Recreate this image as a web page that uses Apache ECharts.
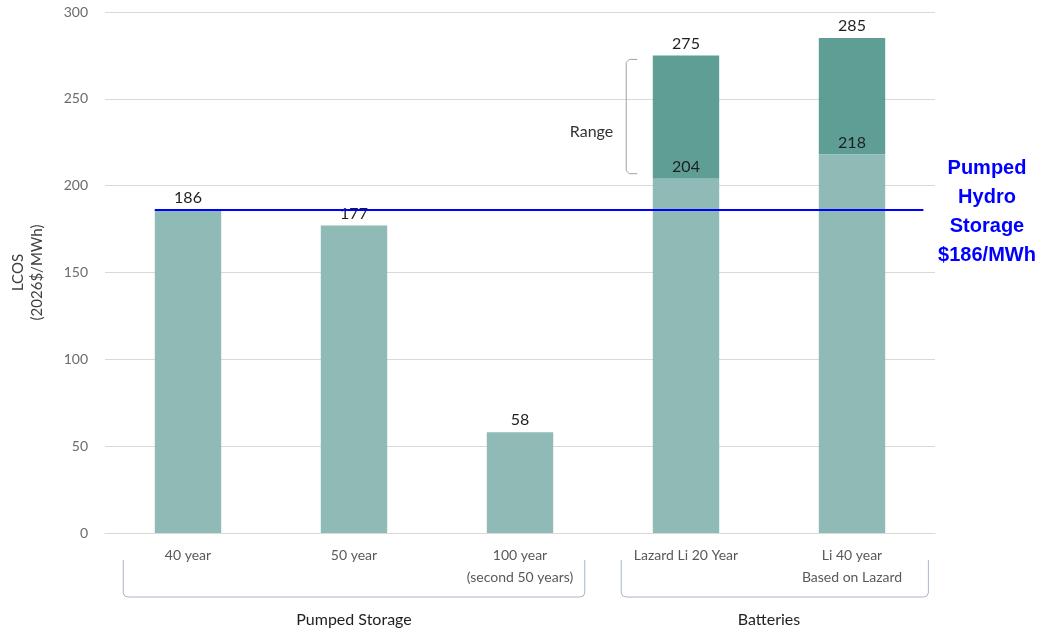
<!DOCTYPE html>
<html><head><meta charset="utf-8">
<script src="https://cdn.jsdelivr.net/npm/echarts@6/dist/echarts.min.js"></script>
<style>html,body{margin:0;padding:0;background:#fff}#c{width:1041px;height:634px}</style>
</head><body><div id="c"></div>
<script>
const categories = ['40 year','50 year','100 year\n(second 50 years)','Lazard Li 20 Year','Li 40 year\nBased on Lazard'];
const baseValues = [186, 177, 58, 204, 218];
const rangeTops = [null, null, null, 275, 285];
const rangeValues = rangeTops.map((t, i) => t == null ? null : t - baseValues[i]);
const yTicks = [0, 50, 100, 150, 200, 250, 300];
const groups = [
  { name: 'Pumped Storage', from: 0, to: 2 },
  { name: 'Batteries', from: 3, to: 4 }
];
const referenceValue = 186;
const referenceLineX = [-0.2, 4.43];
const referenceText = 'Pumped\nHydro\nStorage\n$186/MWh';

const FONT = 'Lato';
const chart = echarts.init(document.getElementById('c'));
const option = {
  animation: false,
  backgroundColor: '#fff',
  grid: { left: 105, right: 106, top: 12, bottom: 101, containLabel: false, outerBoundsMode: 'none' },
  xAxis: [{
    type: 'category', data: categories,
    axisLine: { show: true, lineStyle: { color: '#d9d9d9', width: 1 } },
    axisTick: { show: false },
    axisLabel: { color: '#595959', fontFamily: FONT, fontSize: 14, margin: 11, lineHeight: 22, interval: 0 }
  }, {
    type: 'value', min: -0.5, max: 4.5, show: false
  }],
  yAxis: {
    type: 'value', min: yTicks[0], max: yTicks[yTicks.length - 1], interval: yTicks[1] - yTicks[0],
    name: 'LCOS\n(2026$/MWh)', nameLocation: 'middle', nameRotate: 90, nameGap: 58,
    nameTextStyle: { color: '#404040', fontFamily: FONT, fontSize: 15, lineHeight: 19 },
    axisLine: { show: false }, axisTick: { show: false },
    axisLabel: { color: '#6b6b6b', fontFamily: FONT, fontSize: 14, margin: 17 },
    splitLine: { lineStyle: { color: '#d9d9d9', width: 1 } }
  },
  series: [{
    type: 'bar', stack: 's', z: 3, data: baseValues, barWidth: '40%',
    itemStyle: { color: '#8fbab6' },
    label: { show: true, position: 'top', distance: 4, color: '#1f1f1f', fontFamily: FONT, fontSize: 16 }
  }, {
    type: 'bar', stack: 's', z: 2, data: rangeValues, barWidth: '40%',
    itemStyle: { color: '#5f9e95' },
    label: { show: true, position: 'top', distance: 4, color: '#1f1f1f', fontFamily: FONT, fontSize: 16,
      formatter: p => rangeTops[p.dataIndex] }
  }, {
    type: 'line', xAxisIndex: 1, z: 5, symbol: 'none', silent: true,
    data: referenceLineX.map(x => [x, referenceValue]),
    lineStyle: { color: '#0000ff', width: 2 }
  }]
};
chart.setOption(option);

function px(cat, val) { return chart.convertToPixel({ xAxisIndex: 0, yAxisIndex: 0 }, [cat, val]); }
const catW = px(1, 0)[0] - px(0, 0)[0];
const y0 = px(0, 0)[1];
const graphics = [];
const bracketColor = '#a8b6c8';
groups.forEach((g, gi) => {
  const xl = px(g.from, 0)[0] - catW * 0.39;
  const xr = px(g.to, 0)[0] + catW * (gi === groups.length - 1 ? 0.46 : 0.39);
  const yt = y0 + 27, yb = y0 + 64;
  graphics.push({
    type: 'polyline', silent: true,
    shape: { points: [[xl, yt], [xl, yb - 4], [xl + 1.5, yb - 1], [xl + 5, yb], [xr - 5, yb], [xr - 1.5, yb - 1], [xr, yb - 4], [xr, yt]] },
    style: { stroke: bracketColor, lineWidth: 1, fill: null }
  });
  graphics.push({
    type: 'text', silent: true,
    style: { text: g.name, x: (px(g.from, 0)[0] + px(g.to, 0)[0]) / 2, y: y0 + 87, align: 'center', verticalAlign: 'middle',
      fill: '#1f1f1f', font: '16px ' + FONT }
  });
});
// range bracket beside the first battery bar
const bi = 3;
const bx = px(bi, 0)[0] - catW * 0.36;
const byT = px(bi, rangeTops[bi])[1] + 4;
const byB = px(bi, baseValues[bi])[1] - 5;
graphics.push({
  type: 'polyline', silent: true,
  shape: { points: [[bx + 11, byT], [bx + 3, byT], [bx, byT + 3], [bx, byB - 3], [bx + 3, byB], [bx + 11, byB]] },
  style: { stroke: '#a0a0a0', lineWidth: 1, fill: null }
});
graphics.push({
  type: 'text', silent: true,
  style: { text: 'Range', x: bx - 13, y: (byT + byB) / 2 + 15, align: 'right', verticalAlign: 'middle', fill: '#333', font: '16px ' + FONT }
});
const gridRight = chart.convertToPixel({ xAxisIndex: 1 }, 4.5);
graphics.push({
  type: 'text', silent: true,
  style: { text: referenceText, x: gridRight + 52, y: px(0, referenceValue)[1] + 2, align: 'center', verticalAlign: 'middle',
    fill: '#0000ff', font: 'bold 20px "Liberation Sans", Arial', lineHeight: 29 }
});
chart.setOption({ graphic: graphics });
</script></body></html>
